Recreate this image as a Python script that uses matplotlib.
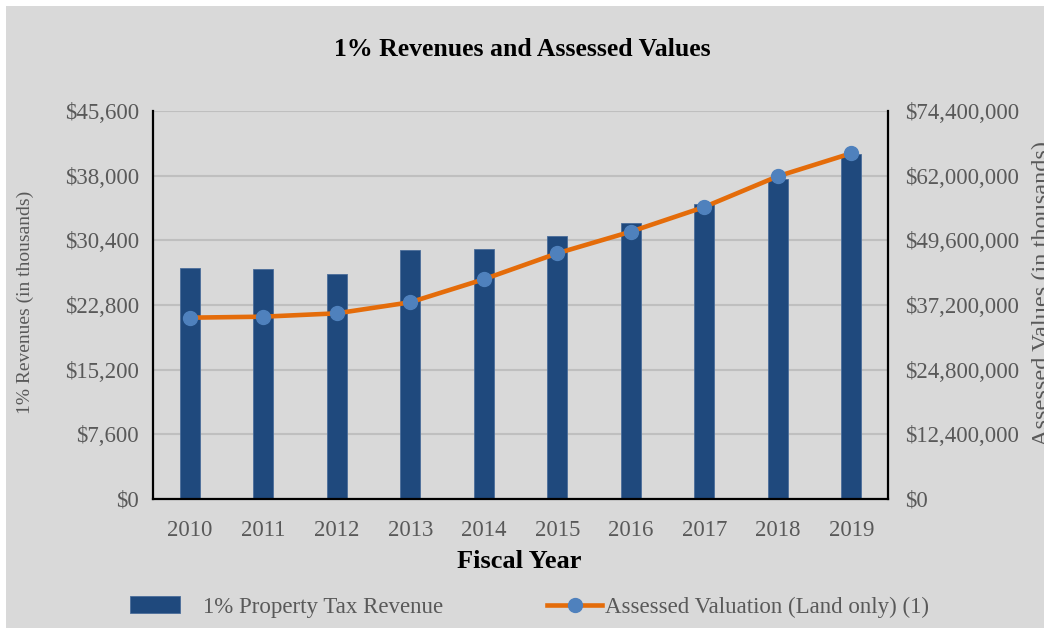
import matplotlib.pyplot as plt
from matplotlib.patches import Rectangle
from matplotlib.ticker import FuncFormatter

# data
years = ['2010', '2011', '2012', '2013', '2014', '2015', '2016', '2017', '2018', '2019']
revenue = [27150, 27000, 26450, 29230, 29420, 30910, 32400, 34700, 37650, 40510]  # thousands
assessed = [34.77e6, 34.96e6, 35.6e6, 37.72e6, 42.13e6, 47.11e6, 51.26e6, 55.99e6, 61.88e6, 66.29e6]

left_ticks = [0, 7600, 15200, 22800, 30400, 38000, 45600]
right_ticks = [0, 12.4e6, 24.8e6, 37.2e6, 49.6e6, 62e6, 74.4e6]

plt.rcParams['font.family'] = ['Liberation Serif', 'DejaVu Serif']
grey_text = '#595959'
bg = '#d9d9d9'
W, H = 1044, 631

fig = plt.figure(figsize=(W / 100, H / 100), dpi=100, facecolor='white')
# grey chart area with small white margin on top/left/bottom
fig.patches.append(Rectangle((6 / W, 3 / H), 1 - 6 / W, 1 - 9 / H,
                             transform=fig.transFigure, facecolor=bg, edgecolor='none', zorder=-5))

ax = fig.add_axes([153 / W, 1 - 499 / H, 735 / W, 388 / H])
ax.set_facecolor(bg)
x = list(range(len(years)))
bars = ax.bar(x, revenue, width=0.27, color='#1f497d', edgecolor='#4a6d9a', linewidth=0.6,
              zorder=2)
ax.set_xlim(-0.5, len(years) - 0.5)
ax.set_ylim(0, 45600)
ax.set_yticks(left_ticks)
ax.yaxis.set_major_formatter(FuncFormatter(lambda v, p: '${:,.0f}'.format(v)))
ax.set_xticks(x)
ax.set_xticklabels(years)
ax.grid(axis='y', color='#bfbfbf', linewidth=1.5, zorder=0)
ax.set_axisbelow(True)
ax.tick_params(axis='y', length=0, labelsize=16.5, colors=grey_text, pad=10)
ax.tick_params(axis='x', length=0, labelsize=16.5, colors=grey_text, pad=15)
for s in ['left', 'bottom', 'right']:
    ax.spines[s].set_color('black')
    ax.spines[s].set_linewidth(1.6)
ax.spines['top'].set_visible(False)

ax2 = ax.twinx()
line, = ax2.plot(x, assessed, color='#e46c0a', linewidth=3.3, marker='o', markersize=10,
                 markerfacecolor='#4f81bd', markeredgecolor='#4f81bd', zorder=3)
ax2.set_ylim(0, 74.4e6)
ax2.set_yticks(right_ticks)
ax2.yaxis.set_major_formatter(FuncFormatter(lambda v, p: '${:,.0f}'.format(v)))
ax2.tick_params(axis='y', length=0, labelsize=16.5, colors=grey_text, pad=12)
for s in ['top', 'left', 'bottom', 'right']:
    ax2.spines[s].set_visible(False)

# axis titles
fig.text(25 / W, 1 - 302 / H, '1% Revenues (in thousands)', rotation=90,
         fontsize=14, color=grey_text, ha='center', va='center')
fig.text(1042 / W, 1 - 293 / H, 'Assessed Values (in thousands)', rotation=90,
         fontsize=17.5, color=grey_text, ha='center', va='center')
fig.text(519 / W, 1 - 561 / H, 'Fiscal Year', fontsize=19, fontweight='bold',
         ha='center', va='center')
fig.text(0.5, 1 - 50 / H, '1% Revenues and Assessed Values', fontsize=18.5,
         fontweight='bold', ha='center', va='center')

# legend, two separate entries
leg1 = fig.legend([bars], ['1% Property Tax Revenue'], loc='center left',
                  bbox_to_anchor=(130 / W, 1 - 607 / H), frameon=False, fontsize=16.5,
                  handlelength=2.2, handleheight=0.7, handletextpad=1.0,
                  borderpad=0, borderaxespad=0, labelcolor=grey_text)
fig.legend([line], ['Assessed Valuation (Land only) (1)'], loc='center left',
           bbox_to_anchor=(547 / W, 1 - 607 / H), frameon=False, fontsize=16.5,
           handlelength=2.4, handletextpad=0.15,
           borderpad=0, borderaxespad=0, labelcolor=grey_text)

fig.savefig('out.png', dpi=100, facecolor=fig.get_facecolor())
